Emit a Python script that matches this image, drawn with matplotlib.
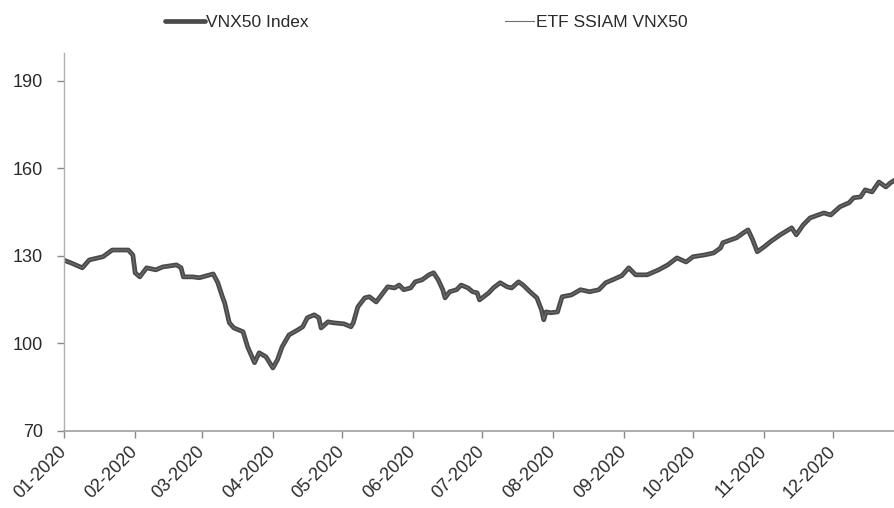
import matplotlib
matplotlib.use("Agg")
import matplotlib.pyplot as plt
import pandas as pd

# ---- data ----
dates = [
    "2020-01-01", "2020-01-04", "2020-01-09", "2020-01-12", "2020-01-18", "2020-01-22", "2020-01-29", "2020-01-31",
    "2020-02-01", "2020-02-03", "2020-02-06", "2020-02-10", "2020-02-13", "2020-02-19", "2020-02-21", "2020-02-22",
    "2020-02-26", "2020-02-29",
    "2020-03-06", "2020-03-08", "2020-03-10", "2020-03-11", "2020-03-13", "2020-03-15", "2020-03-19", "2020-03-21",
    "2020-03-24", "2020-03-26", "2020-03-29",
    "2020-04-01", "2020-04-03", "2020-04-05", "2020-04-08", "2020-04-12", "2020-04-14", "2020-04-16", "2020-04-19",
    "2020-04-21", "2020-04-22", "2020-04-25", "2020-04-27",
    "2020-05-02", "2020-05-05", "2020-05-06", "2020-05-08", "2020-05-11", "2020-05-13", "2020-05-16", "2020-05-19",
    "2020-05-21", "2020-05-24", "2020-05-26", "2020-05-28", "2020-05-31",
    "2020-06-02", "2020-06-05", "2020-06-08", "2020-06-10", "2020-06-12", "2020-06-14", "2020-06-15", "2020-06-17",
    "2020-06-20", "2020-06-22", "2020-06-25", "2020-06-27", "2020-06-29", "2020-06-30",
    "2020-07-04", "2020-07-06", "2020-07-09", "2020-07-12", "2020-07-14", "2020-07-17", "2020-07-19", "2020-07-22",
    "2020-07-25", "2020-07-27", "2020-07-28", "2020-07-29", "2020-07-31",
    "2020-08-03", "2020-08-05", "2020-08-09", "2020-08-13", "2020-08-17", "2020-08-21", "2020-08-24", "2020-08-27",
    "2020-08-31",
    "2020-09-03", "2020-09-06", "2020-09-11", "2020-09-16", "2020-09-20", "2020-09-24", "2020-09-28",
    "2020-10-01", "2020-10-06", "2020-10-10", "2020-10-13", "2020-10-14", "2020-10-20", "2020-10-23", "2020-10-25",
    "2020-10-27", "2020-10-29",
    "2020-11-01", "2020-11-04", "2020-11-08", "2020-11-13", "2020-11-15", "2020-11-18", "2020-11-21", "2020-11-27",
    "2020-11-30",
    "2020-12-04", "2020-12-08", "2020-12-10", "2020-12-13", "2020-12-15", "2020-12-18", "2020-12-21", "2020-12-24",
    "2020-12-26", "2020-12-28",
]

vnx50_index = [
    128.5, 127.6, 125.9, 128.6, 129.7, 132.0, 132.0, 130.3,
    124.2, 122.8, 125.9, 125.2, 126.2, 126.9, 125.9, 122.8,
    122.8, 122.5,
    123.8, 120.8, 116.0, 113.9, 107.1, 105.3, 104.0, 98.8,
    93.4, 96.8, 95.4,
    91.6, 94.4, 98.8, 102.9, 104.7, 105.7, 108.8, 109.8,
    108.8, 105.3, 107.4, 107.1,
    106.7, 105.7, 107.0, 112.5, 115.6, 116.0, 114.2, 117.3,
    119.4, 119.0, 120.0, 118.4, 119.0,
    121.1, 121.8, 123.5, 124.2, 121.8, 118.4, 115.6, 117.7,
    118.4, 120.0, 119.0, 117.7, 117.3, 114.9,
    117.3, 119.0, 120.8, 119.4, 119.0, 121.1, 120.0, 117.7,
    115.6, 111.5, 108.1, 110.8, 110.5,
    110.8, 116.0, 116.6, 118.4, 117.7, 118.4, 120.8, 121.8,
    123.2,
    125.9, 123.5, 123.5, 125.2, 126.9, 129.3, 127.9,
    129.7, 130.3, 131.0, 132.7, 134.5, 136.2, 137.9, 138.9,
    135.5, 131.4,
    133.1, 135.0, 137.2, 139.6, 137.2, 140.6, 143.0, 144.7,
    144.0,
    146.8, 148.2, 149.9, 150.2, 152.6, 151.9, 155.3, 153.6,
    155.0, 156.0,
]

# the ETF tracks the index so closely that the two lines cannot be told apart
etf_ssiam_vnx50 = list(vnx50_index)

series_labels = ["VNX50 Index", "ETF SSIAM VNX50"]
y_ticks = [70, 100, 130, 160, 190]
x_tick_labels = ["01-2020", "02-2020", "03-2020", "04-2020", "05-2020", "06-2020",
                 "07-2020", "08-2020", "09-2020", "10-2020", "11-2020", "12-2020"]

plt.rcParams["font.family"] = ["Liberation Sans", "DejaVu Sans"]

fig = plt.figure(figsize=(8.95, 5.08), dpi=100)
ax = fig.add_axes([0.0715, 0.1516, 0.9285, 0.7441])

x = pd.to_datetime(dates)
l1, = ax.plot(x, vnx50_index, color="#4a4a4a", lw=3.4, solid_capstyle="round",
              solid_joinstyle="round", label=series_labels[0])
l2, = ax.plot(x, etf_ssiam_vnx50, color="#6e6e6e", lw=0.8, label=series_labels[1])

ax.set_ylim(70, 199.5)
ax.set_yticks(y_ticks)
ax.set_xlim(pd.Timestamp("2020-01-01"), pd.Timestamp("2020-12-28"))
tick_pos = pd.to_datetime(["2020-%02d-01" % m for m in range(1, 13)])
ax.set_xticks(tick_pos)
ax.set_xticklabels(x_tick_labels, rotation=45, ha="right", va="center",
                   rotation_mode="anchor")

for s in ["top", "right"]:
    ax.spines[s].set_visible(False)
ax.spines["left"].set_color("#b0b0b0")
ax.spines["bottom"].set_color("#a0a0a0")
ax.spines["left"].set_linewidth(1.0)
ax.spines["bottom"].set_linewidth(1.2)
ax.tick_params(axis="both", colors="#888888", length=5, width=1.0,
               labelcolor="#2a2a2a", labelsize=13)
ax.tick_params(axis="y", pad=10)
ax.tick_params(axis="x", pad=8)

leg_kw = dict(loc="center left", frameon=False, fontsize=12.5, handletextpad=0.1,
              borderpad=0, borderaxespad=0, labelcolor="#2a2a2a")
leg1 = fig.legend(handles=[l1], labels=[series_labels[0]],
                  bbox_to_anchor=(0.184, 0.955), handlelength=2.3, **leg_kw)
fig.legend(handles=[l2], labels=[series_labels[1]],
           bbox_to_anchor=(0.564, 0.955), handlelength=1.7, **leg_kw)

fig.savefig("out.png", dpi=100, facecolor="white")
